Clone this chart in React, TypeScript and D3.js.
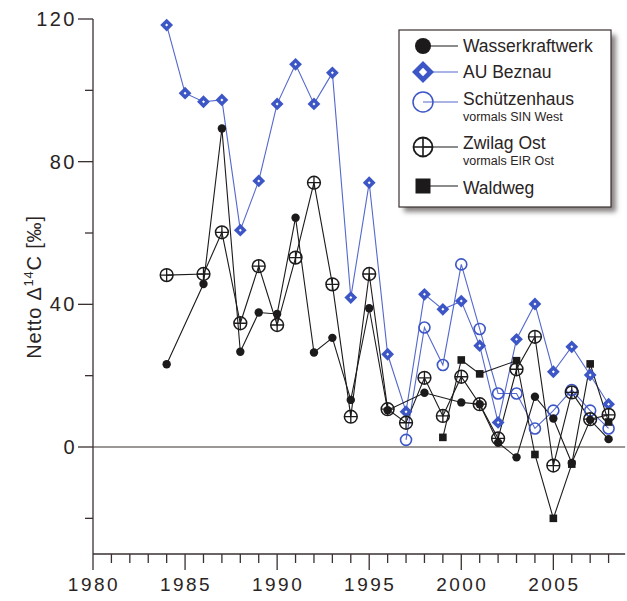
import React, { useEffect, useRef } from "react";
import * as d3 from "d3";

// Netto Δ14C measurements per station and year (‰)
const wasserYears = [1984, 1986, 1987, 1988, 1989, 1990, 1991, 1992, 1993, 1994, 1995, 1996, 1998, 2000, 2001, 2002, 2003, 2004, 2005, 2006, 2007, 2008];
const wasserValues = [23.2, 45.7, 89.3, 26.7, 37.7, 37.3, 64.3, 26.5, 30.6, 13.2, 38.9, 10.3, 15.2, 12.5, 12.0, 1.2, -2.9, 14.1, 8.0, -4.5, 7.6, 2.2];

const beznauYears = [1984, 1985, 1986, 1987, 1988, 1989, 1990, 1991, 1992, 1993, 1994, 1995, 1996, 1997, 1998, 1999, 2000, 2001, 2002, 2003, 2004, 2005, 2006, 2007, 2008];
const beznauValues = [118.3, 99.2, 96.8, 97.3, 60.8, 74.6, 96.2, 107.3, 96.2, 104.9, 41.9, 74.1, 26.0, 9.9, 42.8, 38.6, 40.9, 28.4, 6.9, 30.2, 40.1, 21.1, 28.1, 20.2, 12.0];

const schuetzenYears = [1997, 1998, 1999, 2000, 2001, 2002, 2003, 2004, 2005, 2006, 2007, 2008];
const schuetzenValues = [2.0, 33.5, 23.0, 51.2, 33.1, 15.0, 15.0, 5.2, 10.2, 16.0, 10.2, 5.2];

const zwilagYears = [1984, 1986, 1987, 1988, 1989, 1990, 1991, 1992, 1993, 1994, 1995, 1996, 1997, 1998, 1999, 2000, 2001, 2002, 2003, 2004, 2005, 2006, 2007, 2008];
const zwilagValues = [48.2, 48.5, 60.2, 34.7, 50.7, 34.2, 53.1, 74.1, 45.6, 8.5, 48.5, 10.6, 6.8, 19.4, 8.7, 19.7, 12.0, 2.4, 21.8, 30.9, -5.2, 15.3, 7.8, 9.0];

const waldwegYears = [1999, 2000, 2001, 2003, 2004, 2005, 2006, 2007, 2008];
const waldwegValues = [2.7, 24.4, 20.5, 24.2, -2.1, -20.0, -4.8, 23.3, 7.0];

const yMajorTicks = [0, 40, 80, 120];
const yMinorTicks = [-20, 20, 60, 100];
const xMajorTicks = [1980, 1985, 1990, 1995, 2000, 2005];

const W = 627;
const H = 601;
const BLUE = "#3d56c6";
const BLUE_LINE = "#5468cc";
const INK = "#1c1a1a";
const AXIS = "#3a3030";
const FONT = "'Liberation Sans', Arial, sans-serif";

type Kind = "dot" | "diamond" | "ring" | "cross" | "square";

function drawMarker(g: d3.Selection<SVGGElement, unknown, null, undefined>, kind: Kind, cx: number, cy: number, big: boolean) {
  if (kind === "dot") {
    g.append("circle").attr("cx", cx).attr("cy", cy).attr("r", big ? 8 : 4.2).attr("fill", INK);
  } else if (kind === "diamond") {
    const r = big ? 11 : 6.4;
    const ri = big ? 4.2 : 1.5;
    g.append("path")
      .attr("d", `M${cx},${cy - r}L${cx + r},${cy}L${cx},${cy + r}L${cx - r},${cy}Z`)
      .attr("fill", BLUE);
    g.append("path")
      .attr("d", `M${cx},${cy - ri}L${cx + ri},${cy}L${cx},${cy + ri}L${cx - ri},${cy}Z`)
      .attr("fill", "#fff");
  } else if (kind === "ring") {
    g.append("circle").attr("cx", cx).attr("cy", cy).attr("r", big ? 10 : 5.5)
      .attr("fill", "none").attr("stroke", BLUE).attr("stroke-width", big ? 1.5 : 1.6);
  } else if (kind === "cross") {
    const r = big ? 9.5 : 6.4;
    g.append("circle").attr("cx", cx).attr("cy", cy).attr("r", r)
      .attr("fill", "none").attr("stroke", INK).attr("stroke-width", big ? 1.8 : 1.5);
    g.append("path")
      .attr("d", `M${cx - r},${cy}H${cx + r}M${cx},${cy - r}V${cy + r}`)
      .attr("stroke", INK).attr("stroke-width", big ? 1.6 : 1.3);
  } else {
    const h = big ? 7.5 : 3.8;
    g.append("rect").attr("x", cx - h).attr("y", cy - h).attr("width", 2 * h).attr("height", 2 * h).attr("fill", INK);
  }
}

export default function App() {
  const ref = useRef<SVGSVGElement | null>(null);

  useEffect(() => {
    const svg = d3.select(ref.current);
    svg.selectAll("*").remove();

    const x = d3.scaleLinear().domain([1980, 2009]).range([93, 627]);
    const y = d3.scaleLinear().domain([-30, 120]).range([554, 19]);

    // Axes
    const ax = svg.append("g").attr("stroke", AXIS).attr("stroke-width", 1.3).attr("fill", "none");
    ax.append("line").attr("x1", x(1980)).attr("x2", x(2008.9)).attr("y1", y(-30)).attr("y2", y(-30));
    ax.append("line").attr("x1", x(1980)).attr("x2", x(1980)).attr("y1", y(120)).attr("y2", y(-30) + 16);
    // zero reference line
    ax.append("line").attr("x1", x(1980)).attr("x2", x(2008.9)).attr("y1", y(0)).attr("y2", y(0)).attr("stroke-width", 1.1);

    yMajorTicks.forEach((v) => {
      ax.append("line").attr("x1", x(1980) - 15).attr("x2", x(1980)).attr("y1", y(v)).attr("y2", y(v));
    });
    yMinorTicks.forEach((v) => {
      ax.append("line").attr("x1", x(1980) - 8).attr("x2", x(1980)).attr("y1", y(v)).attr("y2", y(v));
    });
    d3.range(1981, 2009).forEach((yr) => {
      const major = xMajorTicks.includes(yr);
      ax.append("line").attr("x1", x(yr)).attr("x2", x(yr)).attr("y1", y(-30)).attr("y2", y(-30) + (major ? 16 : 9));
    });

    const labels = svg.append("g").attr("font-family", FONT).attr("fill", "#2a2424").attr("font-size", 19);
    yMajorTicks.forEach((v) => {
      labels.append("text").attr("x", 77).attr("y", y(v) + 7).attr("text-anchor", "end")
        .attr("font-size", 20).attr("letter-spacing", 2.5).text(String(v));
    });
    xMajorTicks.forEach((v) => {
      labels.append("text").attr("x", x(v) + 1).attr("y", 591).attr("text-anchor", "middle")
        .attr("letter-spacing", 2.5).text(String(v));
    });

    const yl = labels.append("text")
      .attr("transform", `translate(41,287) rotate(-90)`)
      .attr("text-anchor", "middle").attr("font-size", 20).attr("letter-spacing", 0.8);
    yl.append("tspan").text("Netto Δ");
    yl.append("tspan").attr("font-size", 13).attr("dy", -8).text("14");
    yl.append("tspan").attr("dy", 8).text("C [‰]");

    // Series
    const series: { years: number[]; values: number[]; kind: Kind; color: string }[] = [
      { years: beznauYears, values: beznauValues, kind: "diamond", color: BLUE_LINE },
      { years: schuetzenYears, values: schuetzenValues, kind: "ring", color: BLUE_LINE },
      { years: zwilagYears, values: zwilagValues, kind: "cross", color: INK },
      { years: waldwegYears, values: waldwegValues, kind: "square", color: INK },
      { years: wasserYears, values: wasserValues, kind: "dot", color: INK },
    ];

    const line = d3.line<[number, number]>().x((d) => x(d[0])).y((d) => y(d[1]));
    const plot = svg.append("g");
    series.forEach((s) => {
      const pts: [number, number][] = s.years.map((yr, i) => [yr, s.values[i]]);
      plot.append("path").attr("d", line(pts)).attr("fill", "none")
        .attr("stroke", s.color).attr("stroke-width", 1.1);
    });
    series.forEach((s) => {
      const g = plot.append("g");
      s.years.forEach((yr, i) => drawMarker(g as any, s.kind, x(yr), y(s.values[i]), false));
    });

    // Legend
    const defs = svg.append("defs");
    const f = defs.append("filter").attr("id", "legendShadow").attr("x", "-10%").attr("y", "-10%").attr("width", "130%").attr("height", "130%");
    f.append("feGaussianBlur").attr("stdDeviation", 2.5);

    const lx = 399, ly = 30, lw = 212, lh = 177;
    svg.append("rect").attr("x", lx + 5).attr("y", ly + 5).attr("width", lw).attr("height", lh)
      .attr("fill", "#8a8484").attr("filter", "url(#legendShadow)");
    svg.append("rect").attr("x", lx).attr("y", ly).attr("width", lw).attr("height", lh)
      .attr("fill", "#fff").attr("stroke", AXIS).attr("stroke-width", 1.2);

    const entries: { kind: Kind; color: string; name: string; sub?: string; cy: number; ty: number }[] = [
      { kind: "dot", color: INK, name: "Wasserkraftwerk", cy: 46, ty: 46 },
      { kind: "diamond", color: BLUE_LINE, name: "AU Beznau", cy: 72, ty: 72 },
      { kind: "ring", color: BLUE_LINE, name: "Schützenhaus", sub: "vormals SIN West", cy: 102, ty: 99 },
      { kind: "cross", color: INK, name: "Zwilag Ost", sub: "vormals EIR Ost", cy: 147, ty: 143 },
      { kind: "square", color: INK, name: "Waldweg", cy: 186, ty: 188 },
    ];
    const lg = svg.append("g");
    entries.forEach((e) => {
      lg.append("line").attr("x1", 423).attr("x2", 458).attr("y1", e.cy).attr("y2", e.cy)
        .attr("stroke", e.color).attr("stroke-width", 1.1);
      drawMarker(lg as any, e.kind, 423, e.cy, true);
      lg.append("text").attr("x", 463).attr("y", e.ty + 6).attr("font-family", FONT)
        .attr("font-size", 17.5).attr("fill", "#2a2424").text(e.name);
      if (e.sub) {
        lg.append("text").attr("x", 463).attr("y", e.ty + 22).attr("font-family", FONT)
          .attr("font-size", 12.5).attr("fill", "#2a2424").text(e.sub);
      }
    });
  }, []);

  return (
    <svg
      ref={ref}
      width={W}
      height={H}
      style={{ position: "absolute", left: 0, top: 0, background: "#fff" }}
    />
  );
}
